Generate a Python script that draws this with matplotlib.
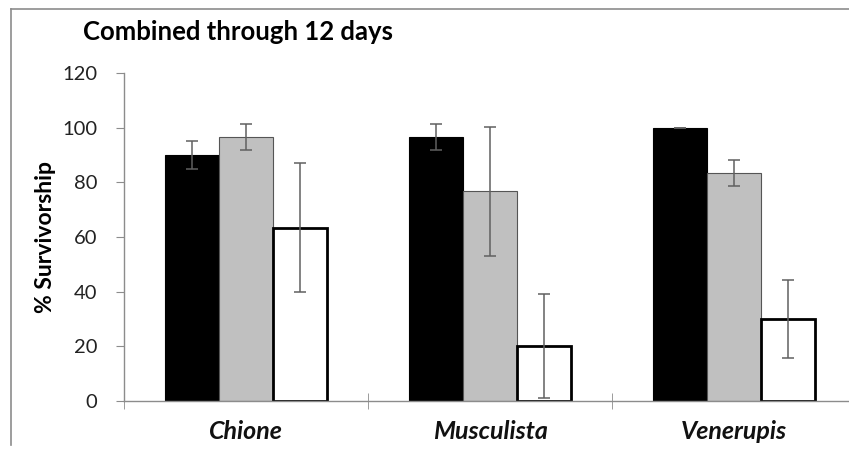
import numpy as np
import matplotlib.pyplot as plt
from matplotlib.lines import Line2D

# data
species = ['Chione', 'Musculista', 'Venerupis']
black_vals = [90, 96.7, 100]
black_err = [5, 4.8, 0]
gray_vals = [96.7, 76.7, 83.3]
gray_err = [4.8, 23.6, 4.8]
white_vals = [63.3, 20, 30]
white_err = [23.6, 19, 14.1]
yticks = [0, 20, 40, 60, 80, 100, 120]

plt.rcParams['font.family'] = ['Lato', 'DejaVu Sans']

W, H = 849, 449
fig = plt.figure(figsize=(W / 100, H / 100), dpi=100)
# axes from x=124 px to 856 px (beyond the right edge), y 0 at 401 px, 120 at 73 px
ax = fig.add_axes([124 / W, (H - 401) / H, (856 - 124) / W, 328 / H])

x = np.arange(len(species))
w = 54 / 244
errc = '#606060'
ekw = dict(ecolor=errc, elinewidth=1.1, capsize=4, capthick=1.1)

ax.bar(x - w, black_vals, w, color='black', edgecolor='black', linewidth=0.8,
       yerr=black_err, error_kw=ekw)
ax.bar(x, gray_vals, w, color='#c0c0c0', edgecolor='#555555', linewidth=0.8,
       yerr=gray_err, error_kw=ekw)
ax.bar(x + w, white_vals, w, color='white', edgecolor='black', linewidth=2,
       yerr=white_err, error_kw=ekw)

ax.set_xlim(-0.5, 2.5)
ax.set_ylim(0, 120)
ax.set_yticks(yticks)
ax.set_xticks(x)
ax.set_xticklabels(species, fontsize=18, fontweight='bold', fontstyle='italic')
ax.set_xticks([-0.5, 0.5, 1.5, 2.5], minor=True)

spc = '#8c8c8c'
for s in ['top', 'right']:
    ax.spines[s].set_visible(False)
for s in ['left', 'bottom']:
    ax.spines[s].set_color(spc)
    ax.spines[s].set_linewidth(1)

ax.tick_params(axis='y', direction='out', length=6, color=spc, labelsize=14.5,
               pad=13, labelcolor='#222222')
ax.tick_params(axis='x', which='major', length=0, pad=14, labelcolor='#111111')
ax.tick_params(axis='x', which='minor', direction='inout', length=12, color=spc)

ax.set_ylabel('% Survivorship', fontsize=16.5, fontweight='bold')
ax.yaxis.set_label_coords(-68 / (856 - 124), (401 - 237) / 328)

fig.text(83 / W, 1 - 32 / H, 'Combined through 12 days', fontsize=18.5,
         fontweight='bold', va='center', ha='left')

# outer chart frame (left and top edges visible)
fig.add_artist(Line2D([11 / W, 11 / W], [1 - 445 / H, 1 - 9 / H],
                      color='#8c8c8c', lw=1.2, transform=fig.transFigure))
fig.add_artist(Line2D([11 / W, 1], [1 - 9 / H, 1 - 9 / H],
                      color='#8c8c8c', lw=1.2, transform=fig.transFigure))

fig.savefig('out.png', dpi=100)
